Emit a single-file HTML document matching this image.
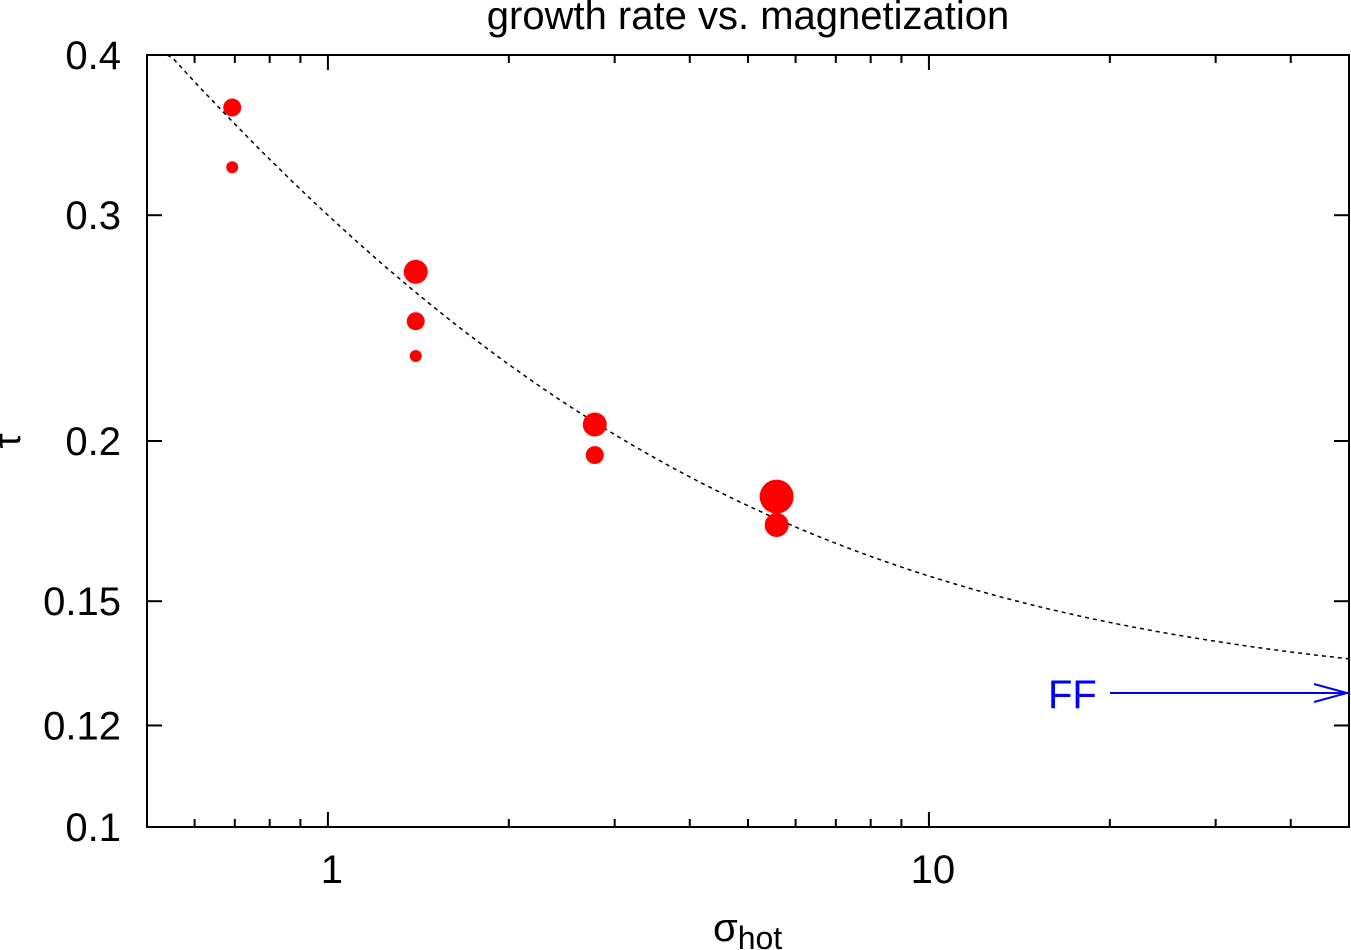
<!DOCTYPE html>
<html><head><meta charset="utf-8"><style>
html,body{margin:0;padding:0;background:#fff;}
svg{display:block;font-family:"Liberation Sans",Arial,sans-serif;}
</style></head><body>
<svg id="chart" width="1351" height="950" xmlns="http://www.w3.org/2000/svg">
<text x="748" y="29" font-size="40" text-anchor="middle">growth rate vs. magnetization</text>
<g id="axes"></g>
<g id="curve"></g>
<g id="points"></g>
<text x="713" y="941" font-size="40">σ<tspan font-size="32" dy="8">hot</tspan></text>
<text x="20" y="441" font-size="38" text-anchor="middle" transform="rotate(-90 20 441)">τ</text>
<g>
<text x="1048" y="708" font-size="40" fill="#0000ff">FF</text>
<line x1="1110" y1="693" x2="1347" y2="693" stroke="#0000ff" stroke-width="2"/>
<polyline points="1314,684 1347,693 1314,702" fill="none" stroke="#0000ff" stroke-width="2"/>
</g>
</svg>
<script>
const xs = [0.693, 0.693, 1.40, 1.40, 1.40, 2.78, 2.78, 5.58, 5.58];
const ys = [0.364, 0.327, 0.271, 0.248, 0.233, 0.206, 0.195, 0.181, 0.172];
const radii = [9, 6, 12, 9, 6, 12, 9, 17, 12];
const yTicks = [0.1, 0.12, 0.15, 0.2, 0.3, 0.4];
const yTickLabels = ["0.1", "0.12", "0.15", "0.2", "0.3", "0.4"];
const xMajor = [1, 10];
const xMajorLabels = ["1", "10"];
const xMinor = [0.6,0.7,0.8,0.9,2,3,4,5,6,7,8,9,20,30,40,50];
const fitA = 0.126, fitB = 0.174, fitC = 0.75;

const L=147,R=1349,T=55,B=827;
const xmin=0.5,xmax=50,ymin=0.1,ymax=0.4;
const sx=v=>L+(Math.log10(v)-Math.log10(xmin))/(Math.log10(xmax)-Math.log10(xmin))*(R-L);
const sy=v=>B-(Math.log10(v)-Math.log10(ymin))/(Math.log10(ymax)-Math.log10(ymin))*(B-T);
const NS="http://www.w3.org/2000/svg";
function mk(tag,attrs,parent){const e=document.createElementNS(NS,tag);for(const k in attrs)e.setAttribute(k,attrs[k]);parent.appendChild(e);return e;}
const ax=document.getElementById('axes');
const frame=mk('rect',{x:L,y:T,width:R-L,height:B-T,fill:'none',stroke:'#000','stroke-width':2},ax);


yTicks.forEach((v,i)=>{
  const y=sy(v);
  const t1=mk('line',{x1:L,x2:L+15,y1:y,y2:y,stroke:'#000','stroke-width':2},ax);
  
  
  const t2=mk('line',{x1:R-15,x2:R,y1:y,y2:y,stroke:'#000','stroke-width':2},ax);
  
  
  const tx=mk('text',{x:121,y:y+14,'font-size':40,'text-anchor':'end'},ax);
  tx.textContent=yTickLabels[i];
  
  
});
xMajor.forEach((v,i)=>{
  const x=sx(v);
  const t1=mk('line',{x1:x,x2:x,y1:B,y2:B-15,stroke:'#000','stroke-width':2},ax);
  
  
  const t2=mk('line',{x1:x,x2:x,y1:T,y2:T+15,stroke:'#000','stroke-width':2},ax);
  
  
  const tx=mk('text',{x:x+4,y:883,'font-size':40,'text-anchor':'middle'},ax);
  tx.textContent=xMajorLabels[i];
  
  
});
xMinor.forEach(v=>{
  const x=sx(v);
  const t1=mk('line',{x1:x,x2:x,y1:B,y2:B-8,stroke:'#000','stroke-width':2},ax);
  
  
  const t2=mk('line',{x1:x,x2:x,y1:T,y2:T+8,stroke:'#000','stroke-width':2},ax);
  
  
});
const pts=[];
for(let i=0;i<=200;i++){
  const lx=Math.log10(0.54)+(Math.log10(xmax)-Math.log10(0.54))*i/200;
  const x=Math.pow(10,lx);
  const y=fitA+fitB*Math.pow(x,-fitC);
  pts.push(sx(x).toFixed(1)+','+sy(Math.min(y,0.4)).toFixed(1));
}
const cv=mk('polyline',{points:pts.join(' '),fill:'none',stroke:'#000','stroke-width':1.5,'stroke-dasharray':'4,4'},document.getElementById('curve'));


const pg=document.getElementById('points');
xs.forEach((v,i)=>{
  const c=mk('circle',{cx:sx(v),cy:sy(ys[i]),r:radii[i],fill:'#ff0000'},pg);
  
  
});
</script>
</body></html>
